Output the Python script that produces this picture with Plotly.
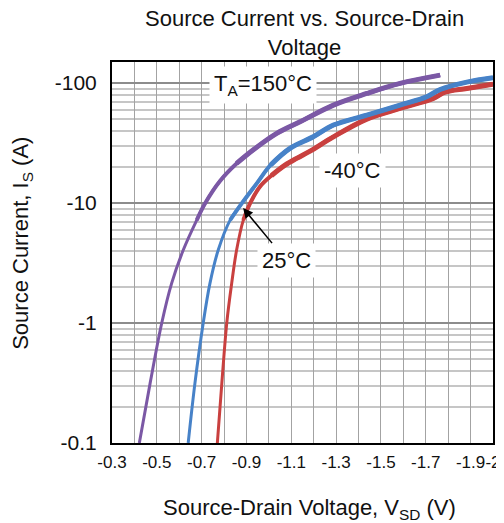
import plotly.graph_objects as go
import math

# ---- data ----
# Source-drain voltage (V) and source current magnitude (A)
v_150 = [-0.422, -0.470, -0.522, -0.566, -0.618, -0.678, -0.715, -0.782, -0.856, -0.935,
         -1.035, -1.139, -1.288, -1.437, -1.585, -1.764]
i_150 = [0.1, 0.314, 1.0, 2.14, 4.06, 7.21, 9.94, 15.3, 21.4, 28.2,
         38.1, 47.6, 65.6, 82.0, 99.4, 116.6]

v_25 = [-0.640, -0.670, -0.707, -0.737, -0.774, -0.827, -0.879, -0.946, -1.008, -1.094,
        -1.198, -1.288, -1.437, -1.585, -1.704, -1.764, -1.883, -2.0]
i_25 = [0.1, 0.314, 1.0, 2.14, 4.06, 7.21, 9.94, 14.6, 20.8, 28.6,
        35.7, 44.7, 54.1, 65.6, 76.9, 88.5, 102.0, 111.0]

v_m40 = [-0.770, -0.790, -0.812, -0.834, -0.856, -0.886, -0.916, -0.960, -1.012, -1.072,
         -1.126, -1.184, -1.286, -1.437, -1.585, -1.734, -1.786, -1.883, -2.0]
i_m40 = [0.1, 0.314, 1.0, 2.14, 4.06, 7.21, 9.94, 13.7, 17.0, 20.7,
         23.7, 27.1, 35.5, 50.1, 61.5, 74.5, 84.1, 90.3, 98.1]

x_tickvals = [-0.3, -0.4, -0.5, -0.6, -0.7, -0.8, -0.9, -1.0, -1.1, -1.2, -1.3,
              -1.4, -1.5, -1.6, -1.7, -1.8, -1.9, -2.0]
x_ticktext = ["-0.3", "", "-0.5", "", "-0.7", "", "-0.9", "", "-1.1", "", "-1.3",
              "", "-1.5", "", "-1.7", "", "-1.9", "-2"]
y_tickvals = [0.1, 1, 10, 100]
y_ticktext = ["-0.1", "-1", "-10", "-100"]
y_minor = [m * d for d in (0.1, 1, 10, 100) for m in range(2, 10)]

FONT = "Liberation Sans, Arial, sans-serif"
C150 = "#7b58a5"
C25 = "#4782c8"
CM40 = "#c9403f"

fig = go.Figure()


def add_series(v, i, color, name):
    # line gets gradually thicker toward high current, as in the reference
    for start, width in ((0, 3), (5, 4), (8, 5)):
        fig.add_trace(go.Scatter(x=v[start:], y=i[start:], mode="lines",
                                 line=dict(color=color, width=width, shape="spline", smoothing=1.0),
                                 name=name, showlegend=False, hoverinfo="skip"))


add_series(v_m40, i_m40, CM40, "-40°C")
add_series(v_25, i_25, C25, "25°C")
add_series(v_150, i_150, C150, "150°C")

fig.update_layout(
    width=496, height=515,
    margin=dict(l=104, r=11, t=54, b=80, autoexpand=False),
    paper_bgcolor="white", plot_bgcolor="white",
    font=dict(family=FONT, color="#111111"),
    xaxis=dict(
        range=[-0.3, -2.0], tickmode="array", tickvals=x_tickvals, ticktext=x_ticktext,
        tickangle=0, automargin=False,
        tickfont=dict(size=17, family=FONT, color="#111111"),
        ticks="outside", ticklen=3, tickcolor="rgba(0,0,0,0)",
        showgrid=True, gridcolor="#a3a3a3", gridwidth=1.3,
        showline=True, linecolor="black", linewidth=2, mirror=True, zeroline=False,
    ),
    yaxis=dict(
        type="log", range=[-1, math.log10(150)], tickmode="array",
        tickvals=y_tickvals, ticktext=y_ticktext, automargin=False,
        tickfont=dict(size=21, family=FONT, color="#111111"),
        ticks="outside", ticklen=9, tickcolor="rgba(0,0,0,0)",
        showgrid=True, gridcolor="#8c8c8c", gridwidth=2,
        minor=dict(tickvals=y_minor, showgrid=True, gridcolor="#c6c6c6", gridwidth=2, ticks=""),
        showline=True, linecolor="black", linewidth=2, mirror=True, zeroline=False,
    ),
    annotations=[
        dict(text="Source Current vs. Source-Drain<br>Voltage", xref="paper", yref="paper",
             x=0.504, y=1.075, showarrow=False, font=dict(size=22, family=FONT, color="#111111"),
             xanchor="center", yanchor="middle"),
        dict(text="Source-Drain Voltage, V<sub>SD</sub> (V)", xref="paper", yref="paper",
             x=0.518, y=-0.172, showarrow=False, font=dict(size=22, family=FONT, color="#111111"),
             xanchor="center", yanchor="middle"),
        dict(text="Source Current, I<sub>S</sub> (A)", xref="paper", yref="paper",
             x=-0.236, y=0.523, showarrow=False, textangle=-90,
             font=dict(size=22, family=FONT, color="#111111"), xanchor="center", yanchor="middle"),
        dict(text="T<sub>A</sub>=150°C", x=-0.974, y=1.983, xref="x", yref="y", showarrow=False,
             bgcolor="white", borderpad=4, font=dict(size=22, family=FONT, color="#111111")),
        dict(text="-40°C", x=-1.375, y=1.275, xref="x", yref="y", showarrow=False,
             bgcolor="white", borderpad=4, font=dict(size=22, family=FONT, color="#111111")),
        dict(text="25°C", x=-0.885, y=0.958, xref="x", yref="y", showarrow=True,
             ax=43, ay=52, arrowhead=2, arrowsize=1.3, arrowwidth=1.5, arrowcolor="black",
             standoff=0, bgcolor="white", borderpad=4,
             font=dict(size=22, family=FONT, color="#111111")),
    ],
)

fig.write_html("out.html")
